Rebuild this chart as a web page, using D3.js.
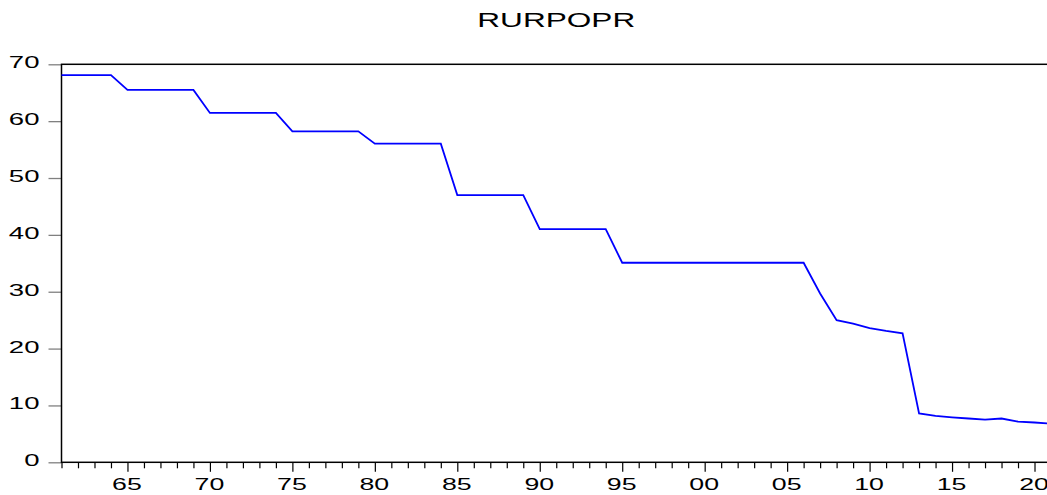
<!DOCTYPE html>
<html>
<head>
<meta charset="utf-8">
<script src="https://cdn.jsdelivr.net/npm/d3@7/dist/d3.min.js"></script>
<style>
  body { margin: 0; background: #fff; }
  svg { display: block; }
  text { font-family: "Liberation Sans", Arial, sans-serif; fill: #000; }
</style>
</head>
<body>
<div id="chart"></div>
<script>
// Series data (annual, 1961-2021)
var years = [1961, 1962, 1963, 1964, 1965, 1966, 1967, 1968, 1969, 1970,
             1971, 1972, 1973, 1974, 1975, 1976, 1977, 1978, 1979, 1980,
             1981, 1982, 1983, 1984, 1985, 1986, 1987, 1988, 1989, 1990,
             1991, 1992, 1993, 1994, 1995, 1996, 1997, 1998, 1999, 2000,
             2001, 2002, 2003, 2004, 2005, 2006, 2007, 2008, 2009, 2010,
             2011, 2012, 2013, 2014, 2015, 2016, 2017, 2018, 2019, 2020, 2021];

var rurpopr = [68.1, 68.1, 68.1, 68.1, 65.5, 65.5, 65.5, 65.5, 65.5, 61.45,
               61.45, 61.45, 61.45, 61.45, 58.2, 58.2, 58.2, 58.2, 58.2, 56.05,
               56.05, 56.05, 56.05, 56.05, 47.0, 47.0, 47.0, 47.0, 47.0, 41.0,
               41.0, 41.0, 41.0, 41.0, 35.1, 35.1, 35.1, 35.1, 35.1, 35.1,
               35.1, 35.1, 35.1, 35.1, 35.1, 35.1, 29.7, 25.0, 24.4, 23.6,
               23.1, 22.7, 8.6, 8.15, 7.9, 7.7, 7.5, 7.7, 7.15, 7.0, 6.8];

var yTicks = [0, 10, 20, 30, 40, 50, 60, 70];
var title = 'RURPOPR';

// layout
var width = 1047, height = 495;
var plotLeft = 61.5, plotRight = 1051, plotTop = 64.3, plotBottom = 462.3;
var stretch = 1.62; // text looks horizontally stretched in the original

var svg = d3.select('#chart').append('svg')
    .attr('width', width)
    .attr('height', height);

var x = d3.scaleLinear().domain([1961, 2021]).range([plotLeft, plotRight]);
var y = d3.scaleLinear().domain([0, 70]).range([plotBottom, plotTop]);

var data = years.map(function(d, i) { return {year: d, value: rurpopr[i]}; });

// title
svg.append('text')
    .attr('transform', 'translate(' + ((plotLeft + plotRight) / 2) + ',27) scale(' + stretch + ',1)')
    .attr('text-anchor', 'middle')
    .style('font-size', '19.5px')
    .text(title);

// y axis (grey ticks outside)
var yAxis = svg.append('g')
    .attr('transform', 'translate(' + plotLeft + ',0)')
    .call(d3.axisLeft(y).tickValues(yTicks).tickSize(13).tickSizeOuter(0));
yAxis.select('.domain').remove();
yAxis.selectAll('.tick line').attr('stroke', '#808080').attr('stroke-width', 1.3);
yAxis.selectAll('.tick text')
    .attr('x', null).attr('dy', null)
    .attr('dominant-baseline', 'middle')
    .attr('transform', 'translate(-22,-1) scale(' + stretch + ',1)')
    .style('font-size', '17px')
    .style('font-family', '"Liberation Sans", Arial, sans-serif');

// x axis, one tick per year, labels every 5 years
var xAxis = svg.append('g')
    .attr('transform', 'translate(0,' + plotBottom + ')')
    .call(d3.axisBottom(x)
      .tickValues(years)
      .tickSize(6)
      .tickSizeOuter(0)
      .tickFormat(function(d) { return d % 5 === 0 ? d3.format('02d')(d % 100) : ''; }));
xAxis.select('.domain').remove();
xAxis.selectAll('.tick line')
    .attr('stroke', '#000')
    .attr('stroke-width', 1.2)
    .attr('y2', function(d) { return d % 5 === 0 ? 9.5 : 6; });
xAxis.selectAll('.tick text')
    .attr('y', null).attr('dy', null)
    .attr('transform', 'translate(-1,27.7) scale(' + stretch + ',1)')
    .style('font-size', '16.5px')
    .style('font-family', '"Liberation Sans", Arial, sans-serif');

// frame
svg.append('rect')
    .attr('x', x(1961))
    .attr('y', y(70))
    .attr('width', x(2021) - x(1961))
    .attr('height', y(0) - y(70))
    .attr('fill', 'none')
    .attr('stroke', '#000')
    .attr('stroke-width', 1.5);

// line
var line = d3.line()
    .x(function(d) { return x(d.year); })
    .y(function(d) { return y(d.value); });

svg.append('path')
    .datum(data)
    .attr('fill', 'none')
    .attr('stroke', '#0000ff')
    .attr('stroke-width', 1.8)
    .attr('stroke-linejoin', 'miter')
    .attr('d', line);
</script>
</body>
</html>
